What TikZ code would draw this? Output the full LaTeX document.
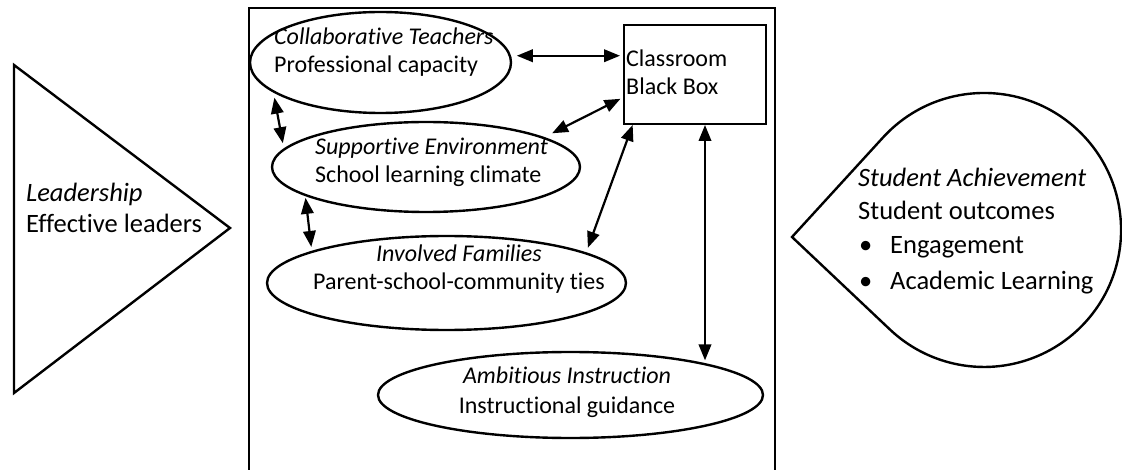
\documentclass[tikz,border=0pt]{standalone}
\usepackage{fontspec}
\setmainfont{Carlito}[Ligatures=NoCommon]
\usetikzlibrary{shapes.geometric,arrows.meta,calc}
\begin{document}
\begin{tikzpicture}[x=1pt,y=-1pt,
  shp/.style={draw=black,line width=2.4pt,line join=miter},
  oval/.style={ellipse,draw=black,line width=2.4pt,inner sep=0pt,outer sep=0pt},
  boxnode/.style={rectangle,draw=black,line width=2.4pt,inner sep=0pt,outer sep=0pt},
  arr/.style={{Triangle[length=16pt,width=12.5pt]}-{Triangle[length=16pt,width=12.5pt]},line width=2.2pt},
  smalltxt/.style={font=\fontsize{24}{29}\selectfont,inner sep=0pt,anchor=base west},
  smallc/.style={font=\fontsize{24}{29}\selectfont,inner sep=0pt,anchor=base},
  bigtxt/.style={font=\fontsize{26.5}{32}\selectfont,inner sep=0pt,anchor=base west}]
\useasboundingbox (0,0) rectangle (1122,470);
\fill[white] (0,0) rectangle (1122,470);

% left triangle: Leadership
\draw[shp] (14,65) -- (230,228) -- (14,393) -- cycle;
\node[bigtxt] (lead1) at (26,202) {\textit{Leadership}};
\node[bigtxt] (lead2) at (26,233) {Effective leaders};

% big frame
\draw[shp] (249,8) rectangle (775,473);

% classroom box
\node[boxnode, minimum width=142pt, minimum height=99pt] (cb) at (695,74.5) {};
\node[smalltxt] (cb1) at (626,67) {Classroom};
\node[smalltxt] (cb2) at (626,95) {Black Box};

% ellipses
\node[oval, minimum width=261pt, minimum height=101pt] (ct) at (380.5,62.5) {};
\node[smalltxt] (ct1) at (274,45) {\textit{Collaborative Teachers}};
\node[smalltxt] (ct2) at (274,73) {Professional capacity};

\node[oval, minimum width=308pt, minimum height=90pt] (se) at (426,167) {};
\node[smalltxt] (se1) at (315,155) {\textit{Supportive Environment}};
\node[smalltxt] (se2) at (315,183) {School learning climate};

\node[oval, minimum width=359pt, minimum height=94pt] (if) at (446.5,283) {};
\node[smallc] (if1) at (459,262) {\textit{Involved Families}};
\node[smallc] (if2) at (459,290) {Parent-school-community ties};

\node[oval, minimum width=385pt, minimum height=86pt] (ai) at (570.5,395) {};
\node[smallc] (ai1) at (567,383) {\textit{Ambitious Instruction}};
\node[smallc] (ai2) at (567,413) {Instructional guidance};

% student achievement teardrop
\draw[shp] (792,237) -- (882.9,137.6) arc[start angle=137.6, end angle=-133.4, radius=137pt] -- cycle;
\node[bigtxt] (sa1) at (858,187) {\textit{Student Achievement}};
\node[bigtxt] (sa2) at (858,220) {Student outcomes};
\node[bigtxt] (sa3) at (858,254) {\makebox[32pt][l]{\hspace{1pt}\textbullet}Engagement};
\node[bigtxt] (sa4) at (858,290) {\makebox[32pt][l]{\hspace{1pt}\textbullet}Academic Learning};

% connectors
\draw[arr, shorten <=7pt, shorten >=4pt] (ct.3) -- (ct.3 -| cb.west);
\draw[arr, shorten <=10pt, shorten >=4pt] (se.14) -- ([yshift=-22.5pt]cb.west);
\draw[arr, shorten <=6.5pt, shorten >=6.5pt] (ct.195) -- (se.173);
\draw[arr, shorten <=3pt, shorten >=5pt] (se.193) -- (if.167.4);
\draw[arr, shorten <=1pt, shorten >=6pt] ([xshift=9pt]cb.south west) -- (if.12);
\draw[arr, shorten <=1pt, shorten >=5pt] ([xshift=10pt]cb.south) -- ([xshift=10pt]cb.south |- ai.12);
\end{tikzpicture}
\end{document}
